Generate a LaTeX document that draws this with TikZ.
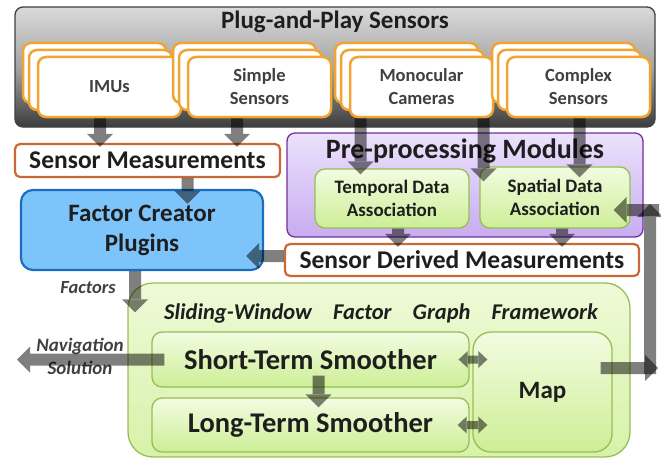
\documentclass[tikz,border=0pt]{standalone}
\usepackage{fontspec}
\setmainfont{Carlito}
\usetikzlibrary{arrows.meta,calc}
\definecolor{sensorange}{RGB}{240,165,50}
\definecolor{measbrown}{RGB}{200,105,55}
\definecolor{fcblue}{RGB}{125,196,250}
\definecolor{fcborder}{RGB}{25,110,190}
\definecolor{pptop}{RGB}{236,226,252}
\definecolor{ppbot}{RGB}{200,172,240}
\definecolor{ppborder}{RGB}{112,48,160}
\definecolor{gtop}{RGB}{242,252,225}
\definecolor{gbot}{RGB}{205,238,150}
\definecolor{gborder}{RGB}{150,190,85}
\definecolor{ftop}{RGB}{238,250,215}
\definecolor{fbot}{RGB}{215,242,170}
\definecolor{txt}{RGB}{30,30,30}
\definecolor{stxt}{RGB}{64,64,64}
\definecolor{graytop}{RGB}{218,218,218}
\definecolor{graymid}{RGB}{165,165,165}
\definecolor{graybot}{RGB}{60,60,60}
\definecolor{grayborder}{RGB}{64,64,64}
\newcommand\garrow[1]{\begin{scope}[transparency group, opacity=.5]\draw #1;\end{scope}}
\begin{document}
\begin{tikzpicture}[x=1pt,y=-1pt,
  sensbox/.style={draw=sensorange, line width=2.5pt, fill=white, rounded corners=8pt,
    minimum width=143pt, minimum height=60pt, inner sep=0pt, text=stxt,
    font=\fontsize{18.5}{23}\selectfont\bfseries, align=center},
  measbox/.style={draw=measbrown, line width=2.2pt, fill=white, rounded corners=5pt,
    inner sep=0pt, text=txt, font=\fontsize{25.5}{30}\selectfont\bfseries},
  greenbox/.style={draw=gborder, line width=1.3pt, top color=gtop, bottom color=gbot,
    rounded corners=10pt, inner sep=0pt, text=txt, align=center},
  barrow/.style={line width=12pt, black, -{Triangle[width=26pt,length=13pt,line width=0pt]}},
  sarrow/.style={line width=8pt, black,
    {Triangle[width=17pt,length=9pt,line width=0pt]}-{Triangle[width=17pt,length=9pt,line width=0pt]}},
  lbl/.style={text=stxt, font=\fontsize{19}{23}\selectfont\bfseries\itshape, align=center, inner sep=0pt}
]
\useasboundingbox (0,0) rectangle (661,460);

% Plug-and-Play Sensors
\node[draw=grayborder, line width=1.3pt, rounded corners=8pt, top color=graytop,
  bottom color=graybot, middle color=graymid, minimum width=640pt, minimum height=120pt,
  inner sep=0pt] (pnp) at (335,67) {};
\node[text=txt, font=\fontsize{25}{30}\selectfont\bfseries, inner sep=0pt] (pnptitle) at (335,22) {Plug-and-Play Sensors};

\node[sensbox] (imuA) at (94.5,73) {};
\node[sensbox] (imuB) at (100.5,80) {};
\node[sensbox] (imu) at (109.5,87) {IMUs};
\node[sensbox] (ssA) at (244.5,73) {};
\node[sensbox] (ssB) at (250.5,80) {};
\node[sensbox] (ss) at (259.5,87) {Simple\\Sensors};
\node[sensbox] (mcA) at (406.5,73) {};
\node[sensbox] (mcB) at (412.5,80) {};
\node[sensbox] (mc) at (421.5,87) {Monocular\\Cameras};
\node[sensbox] (csA) at (563.5,73) {};
\node[sensbox] (csB) at (569.5,80) {};
\node[sensbox] (cs) at (578.5,87) {Complex\\Sensors};

% Sensor Measurements
\node[measbox, minimum width=265pt, minimum height=33pt] (sm) at (147.5,160.5) {Sensor Measurements};

% Factor Creator Plugins
\node[draw=fcborder, line width=2.2pt, fill=fcblue, rounded corners=12pt,
  minimum width=242pt, minimum height=80pt, inner sep=0pt, text=txt, align=center,
  font=\fontsize{25}{30}\selectfont\bfseries] (fc) at (142,230) {Factor Creator\\Plugins};

% Pre-processing Modules
\node[draw=ppborder, line width=1.3pt, rounded corners=8pt, top color=pptop, bottom color=ppbot,
  minimum width=356pt, minimum height=104pt, inner sep=0pt] (pp) at (465,185) {};
\node[text=txt, font=\fontsize{28}{32}\selectfont\bfseries, inner sep=0pt] (pptitle) at (465,151) {Pre-processing Modules};
\node[greenbox, minimum width=154pt, minimum height=59pt, font=\fontsize{19}{22.5}\selectfont\bfseries] (td) at (392,198.5) {Temporal Data\\Association};
\node[greenbox, minimum width=150pt, minimum height=61pt, font=\fontsize{19}{22.5}\selectfont\bfseries] (sd) at (555,197.5) {Spatial Data\\Association};

% Sensor Derived Measurements
\node[measbox, minimum width=354pt, minimum height=32pt] (sdm) at (462,260) {Sensor Derived Measurements};

% Sliding window framework
\node[draw=gborder, line width=1.3pt, rounded corners=25pt, top color=ftop, bottom color=fbot,
  minimum width=502pt, minimum height=174pt, inner sep=0pt] (frame) at (379,370) {};
\node[text=txt, font=\fontsize{22.5}{26}\selectfont\bfseries\itshape, inner sep=0pt] (frametitle) at (381,313)
  {Sliding-Window\hspace{16pt} Factor\hspace{16pt} Graph\hspace{16pt} Framework};
\node[greenbox, minimum width=317pt, minimum height=55pt, font=\fontsize{28.5}{32}\selectfont\bfseries] (st) at (310.5,359.5) {Short-Term Smoother};
\node[greenbox, minimum width=317pt, minimum height=54pt, font=\fontsize{28.5}{32}\selectfont\bfseries] (lt) at (310.5,425) {Long-Term Smoother};
\node[greenbox, rounded corners=18pt, minimum width=139pt, minimum height=120pt, font=\fontsize{25}{30}\selectfont\bfseries] (map) at (542.5,392) {Map};

% labels
\node[lbl, font=\fontsize{18.5}{23}\selectfont\bfseries\itshape] (factors) at (88,288) {Factors};
\node[lbl] (navsol) at (80,356) {Navigation\\Solution};

\coordinate (navend) at (17,358);
\coordinate (mapout) at (658,368);
\coordinate (vbot) at (650,374);
\coordinate (vtop) at (650,204);
\coordinate (loopin) at (659,210);

% arrows
\garrow{[barrow, shorten >=-4pt] ([xshift=-9.5pt]imu.south) -- ([xshift=-9.5pt]imu.south |- sm.north)}
\garrow{[barrow, shorten >=-4pt] ([xshift=-22.5pt]ss.south) -- ([xshift=-22.5pt]ss.south |- sm.north)}
\garrow{[barrow, shorten >=-15pt] ([xshift=40pt]sm.south) -- ([xshift=40pt]sm.south |- fc.north)}
\garrow{[barrow, shorten >=-6pt] ([xshift=-61pt]mc.south) -- ([xshift=-61pt]mc.south |- td.north)}
\garrow{[barrow, shorten >=-15pt] ([xshift=62pt]mc.south) -- ([xshift=62pt]mc.south |- sd.north)}
\garrow{[barrow, shorten >=-11pt] ([xshift=1pt]cs.south) -- ([xshift=1pt]cs.south |- sd.north)}
\garrow{[barrow, shorten >=-4pt] ([xshift=6pt]td.south) -- ([xshift=6pt]td.south |- sdm.north)}
\garrow{[barrow, shorten >=-4pt] ([xshift=7pt]sd.south) -- ([xshift=7pt]sd.south |- sdm.north)}
\garrow{[barrow, shorten >=-18pt] ([yshift=4pt]sdm.west) -- ([yshift=4pt]sdm.west -| fc.east)}
\garrow{[barrow, shorten >=-30pt] ([xshift=-7pt]fc.south) -- ([xshift=-7pt]fc.south |- frame.north)}
\garrow{[barrow] ([xshift=13pt]st.west) -- (st.west -| navend)}
\garrow{[barrow, shorten <=-12pt, shorten >=-10pt] ([xshift=8pt]st.south) -- ([xshift=8pt]st.south |- lt.north)}
\garrow{[sarrow, shorten <=-11pt, shorten >=-15pt] (st.east) -- (st.east -| map.west)}
\garrow{[sarrow, shorten <=-12pt, shorten >=-15pt] (lt.east) -- (lt.east -| map.west)}
\garrow{[barrow, shorten <=-12pt] ([yshift=24pt]map.east) -- ([yshift=24pt]map.east -| mapout)}
\garrow{[barrow] (vbot) -- (vtop)}
\garrow{[barrow, shorten >=-17pt] ([yshift=-12.5pt]sd.east -| loopin) -- ([yshift=-12.5pt]sd.east)}
\end{tikzpicture}
\end{document}
